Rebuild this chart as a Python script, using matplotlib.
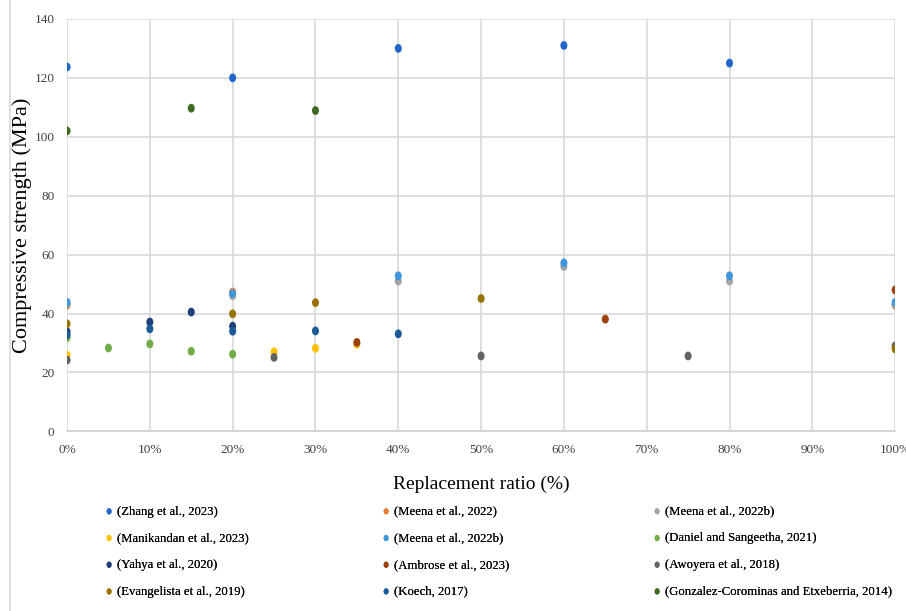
import matplotlib.pyplot as plt
from matplotlib.lines import Line2D
from matplotlib.path import Path
from matplotlib.transforms import Affine2D
from matplotlib.ticker import PercentFormatter

plt.rcParams['font.family'] = ['Liberation Serif', 'DejaVu Serif']

# Replacement ratio (%) and compressive strength (MPa) for each study
zhang_x = [0, 20, 40, 60, 80]
zhang_y = [123.7, 120, 130, 131, 125]
meena_x = [0, 20, 100]
meena_y = [42.8, 47.3, 42.8]
meena_b_grey_x = [0, 20, 40, 60, 80, 100]
meena_b_grey_y = [43.2, 46, 51, 56, 51, 43]
manikandan_x = [0, 25, 30, 35]
manikandan_y = [25.8, 27, 28.2, 29.6]
meena_b_blue_x = [0, 20, 40, 60, 80, 100]
meena_b_blue_y = [43.8, 46.8, 52.8, 57.2, 52.8, 43.8]
daniel_x = [0, 5, 10, 15, 20]
daniel_y = [31.8, 28.3, 29.7, 27.2, 26.2]
yahya_x = [0, 10, 15, 20]
yahya_y = [33.8, 37.1, 40.5, 35.7]
ambrose_x = [35, 65, 100]
ambrose_y = [30.2, 38.1, 48]
awoyera_x = [0, 25, 50, 75, 100]
awoyera_y = [24.2, 25.1, 25.6, 25.6, 29]
evangelista_x = [0, 20, 30, 50, 100]
evangelista_y = [36.5, 39.9, 43.7, 45.1, 28]
koech_x = [0, 10, 20, 30, 40]
koech_y = [32.8, 34.8, 34, 34.1, 33.1]
gonzalez_x = [0, 15, 30]
gonzalez_y = [102, 109.7, 108.9]

series = [
    ('(Zhang et al., 2023)', zhang_x, zhang_y, '#2166c9'),
    ('(Meena et al., 2022)', meena_x, meena_y, '#ed7d31'),
    ('(Meena et al., 2022b)', meena_b_grey_x, meena_b_grey_y, '#a5a5a5'),
    ('(Manikandan et al., 2023)', manikandan_x, manikandan_y, '#ffc000'),
    ('(Meena et al., 2022b)', meena_b_blue_x, meena_b_blue_y, '#4197dd'),
    ('(Daniel and Sangeetha, 2021)', daniel_x, daniel_y, '#70ad47'),
    ('(Yahya et al., 2020)', yahya_x, yahya_y, '#1f3f78'),
    ('(Ambrose et al., 2023)', ambrose_x, ambrose_y, '#9e400e'),
    ('(Awoyera et al., 2018)', awoyera_x, awoyera_y, '#636363'),
    ('(Evangelista et al., 2019)', evangelista_x, evangelista_y, '#997300'),
    ('(Koech, 2017)', koech_x, koech_y, '#1a5a99'),
    ('(Gonzalez-Corominas and Etxeberria, 2014)', gonzalez_x, gonzalez_y, '#3f6a22'),
]

# slightly tall oval marker
oval = Path.unit_circle().transformed(Affine2D().scale(0.8, 1.0))

fig = plt.figure(figsize=(9.06, 6.11), dpi=100)
ax = fig.add_axes([0.074, 0.294, 0.914, 0.675])

handles = []
for label, xs, ys, color in series:
    h = ax.scatter(xs, ys, s=40, marker=oval, color=color, label=label,
                   zorder=3, edgecolors='none')
    handles.append(h)

ax.set_xlim(0, 100)
ax.set_ylim(0, 140)
ax.set_xticks(range(0, 101, 10))
ax.set_yticks(range(0, 141, 20))
ax.xaxis.set_major_formatter(PercentFormatter(decimals=0))
ax.grid(True, color='#d9d9d9', linewidth=1.2)
ax.set_axisbelow(True)
for side in ['top', 'right', 'left']:
    ax.spines[side].set_visible(False)
ax.spines['bottom'].set_color('#d0d0d0')
ax.spines['bottom'].set_linewidth(1.2)
ax.tick_params(length=0, labelsize=9.5, colors='#404040', pad=9)
ax.set_xlabel('Replacement ratio (%)', fontsize=14, labelpad=14)
ax.set_ylabel('Compressive strength (MPa)', fontsize=16)
ax.yaxis.set_label_coords(-0.042, 0.5)

# chart area border on the left
fig.add_artist(Line2D([10 / 906, 10 / 906], [0, 1], color='#d9d9d9',
                      linewidth=1.2, transform=fig.transFigure))

# legend laid out as three columns of four entries
col_left = [104 / 906, 381 / 906, 652 / 906]
for c in range(3):
    idx = [r * 3 + c for r in range(4)]
    leg = fig.legend([handles[i] for i in idx], [series[i][0] for i in idx],
                     loc='center left', bbox_to_anchor=(col_left[c], 0.097),
                     frameon=False, fontsize=9.2, markerscale=0.7,
                     borderpad=0, borderaxespad=0, handlelength=0.8,
                     handletextpad=0.25, labelspacing=1.15)
    fig.add_artist(leg)

fig.savefig('out.png', dpi=100)
